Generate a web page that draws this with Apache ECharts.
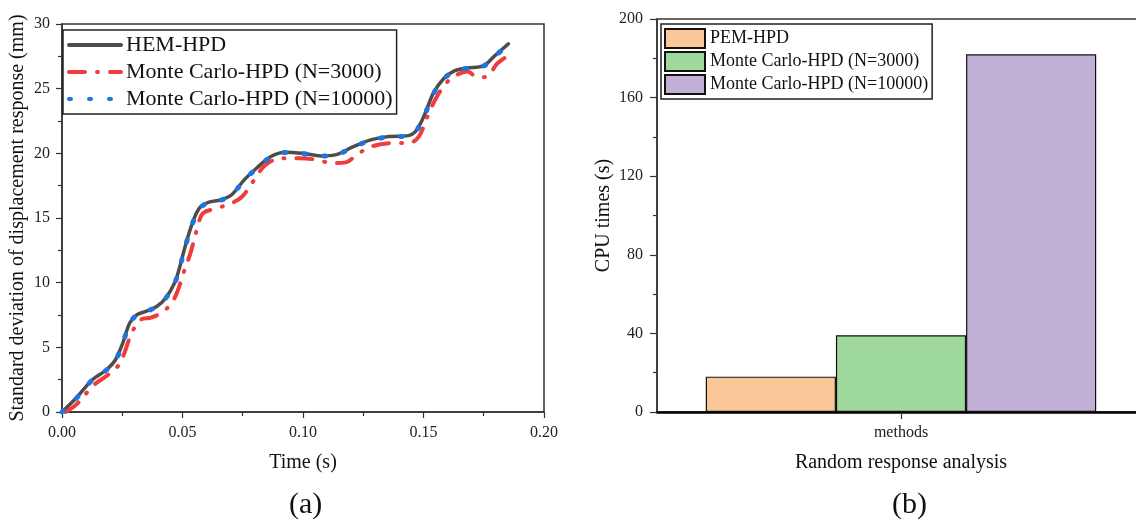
<!DOCTYPE html>
<html>
<head>
<meta charset="utf-8">
<script src="https://cdn.jsdelivr.net/npm/echarts@6/dist/echarts.min.js"></script>
<style>
  html, body { margin: 0; padding: 0; background: #fff; overflow: hidden; }
  /* the panel (b) frame runs just past the right edge of the window */
  #main { width: 1146px; height: 522px; }
</style>
</head>
<body>
<div id="main"></div>
<script>
// (a) standard deviation of displacement response over time
const hemTime = [0, 0.0059, 0.0126, 0.0185, 0.0222, 0.0252, 0.0281, 0.0311, 0.0348, 0.0393, 0.043, 0.0467, 0.0489, 0.0511, 0.0541, 0.057, 0.0607, 0.0659, 0.0704, 0.0756, 0.0807, 0.0867, 0.0926, 0.1, 0.1074, 0.1133, 0.1207, 0.1281, 0.1356, 0.143, 0.1467, 0.1504, 0.1541, 0.1585, 0.163, 0.1681, 0.1748, 0.1793, 0.1852];
const hemStd = [0, 1.08, 2.5, 3.27, 4.04, 5.33, 6.88, 7.52, 7.78, 8.16, 8.8, 9.97, 11.25, 12.8, 14.6, 15.76, 16.2, 16.4, 16.8, 17.95, 18.85, 19.75, 20.09, 20.0, 19.8, 19.88, 20.5, 21.04, 21.3, 21.35, 21.7, 22.97, 24.65, 25.8, 26.4, 26.6, 26.76, 27.5, 28.46];

const mc3000Time = [0.0015, 0.0059, 0.0133, 0.0193, 0.0237, 0.0259, 0.0289, 0.0326, 0.037, 0.0422, 0.0467, 0.0504, 0.0533, 0.0563, 0.0585, 0.0644, 0.0704, 0.0748, 0.0793, 0.0844, 0.0911, 0.0985, 0.1059, 0.1119, 0.1178, 0.1222, 0.1281, 0.1356, 0.1444, 0.1481, 0.1519, 0.1556, 0.16, 0.1637, 0.1681, 0.1726, 0.1763, 0.1807, 0.1874];
const mc3000Std = [0, 0.57, 2.1, 2.9, 3.66, 4.56, 6.1, 7.13, 7.3, 7.78, 8.8, 10.74, 12.28, 14.34, 15.37, 15.76, 16.15, 16.66, 17.82, 19.1, 19.62, 19.62, 19.5, 19.24, 19.3, 19.88, 20.5, 20.78, 20.83, 21.3, 22.97, 24.4, 25.55, 26.06, 26.32, 25.88, 25.93, 26.96, 27.8];

const mc10000Time = [0, 0.0059, 0.0126, 0.0185, 0.0222, 0.0252, 0.0281, 0.0311, 0.0348, 0.0393, 0.043, 0.0467, 0.0489, 0.0511, 0.0541, 0.057, 0.0607, 0.0659, 0.0704, 0.0756, 0.0807, 0.0867, 0.0926, 0.1, 0.1074, 0.1133, 0.1207, 0.1281, 0.1356, 0.143, 0.1467, 0.1504, 0.1541, 0.1585, 0.163, 0.1681, 0.1748, 0.1793, 0.1852];
const mc10000Std = [0, 1.05, 2.48, 3.25, 4.0, 5.3, 6.85, 7.5, 7.76, 8.14, 8.78, 9.94, 11.2, 12.75, 14.55, 15.72, 16.18, 16.38, 16.78, 17.92, 18.82, 19.72, 20.06, 19.98, 19.79, 19.86, 20.47, 21.0, 21.27, 21.33, 21.68, 22.93, 24.6, 25.76, 26.38, 26.58, 26.74, 27.46, 28.42];

const timeTicks = { min: 0, max: 0.2, step: 0.05 };
const stdTicks = { min: 0, max: 30, step: 5 };

// (b) CPU time of each method
const methodCategories = ['methods'];
const pemCpu = [18];
const mc3000Cpu = [39];
const mc10000Cpu = [182];
const cpuTicks = { min: 0, max: 200, step: 40 };

const lineNames = ['HEM-HPD', 'Monte Carlo-HPD (N=3000)', 'Monte Carlo-HPD (N=10000)'];
const barNames = ['PEM-HPD', 'Monte Carlo-HPD (N=3000)', 'Monte Carlo-HPD (N=10000)'];
// bar series get their own keys so the two legends do not share items
const barKeys = barNames.map(n => 'cpu:' + n);

const FONT = 'Liberation Serif';
const AX = '#333';

function pairs(xs, ys) { return xs.map((x, i) => [x, ys[i]]); }

const chart = echarts.init(document.getElementById('main'), null, { renderer: 'canvas' });

const labelText = { fontFamily: FONT, fontSize: 16, color: '#222' };
const nameText = { fontFamily: FONT, fontSize: 20, color: '#111' };

chart.setOption({
  animation: false,
  backgroundColor: '#fff',
  textStyle: { fontFamily: FONT },
  grid: [
    { left: 62, width: 482, top: 24, bottom: 110, show: true, borderColor: AX, borderWidth: 1.5, backgroundColor: 'transparent' },
    { left: 657, width: 488, top: 19, bottom: 110, show: true, borderColor: AX, borderWidth: 1.5, backgroundColor: 'transparent' }
  ],
  legend: [
    {
      data: lineNames,
      orient: 'vertical',
      left: 63, top: 30,
      itemWidth: 52, itemHeight: 20, itemGap: 5,
      padding: [4, 4, 4, 4],
      borderColor: '#222', borderWidth: 1.5,
      selectedMode: false,
      itemStyle: { opacity: 0 },
      lineStyle: { width: 4 },
      textStyle: { fontFamily: FONT, fontSize: 22, color: '#111' }
    },
    {
      data: barKeys,
      orient: 'vertical',
      left: 661, top: 24,
      itemWidth: 40, itemHeight: 19, itemGap: 2,
      padding: [4, 4, 4, 3],
      borderColor: '#222', borderWidth: 1.5,
      selectedMode: false,
      icon: 'rect',
      formatter: name => name.slice(4),
      textStyle: { fontFamily: FONT, fontSize: 18, color: '#111', lineHeight: 19 }
    }
  ],
  xAxis: [
    {
      type: 'value', gridIndex: 0,
      min: timeTicks.min, max: timeTicks.max, interval: timeTicks.step,
      name: 'Time (s)', nameLocation: 'middle', nameGap: 41, nameTextStyle: nameText,
      axisLine: { show: true, lineStyle: { color: AX, width: 1.5 } },
      axisTick: { show: true, length: 6, lineStyle: { color: AX, width: 1.2 } },
      minorTick: { show: true, splitNumber: 2, length: 4, lineStyle: { color: AX, width: 1.2 } },
      axisLabel: Object.assign({ margin: 13, formatter: v => v.toFixed(2) }, labelText),
      splitLine: { show: false }
    },
    {
      type: 'category', gridIndex: 1, data: methodCategories,
      name: 'Random response analysis', nameLocation: 'middle', nameGap: 41, nameTextStyle: nameText,
      axisLine: { show: true, lineStyle: { color: '#000', width: 2.5 } },
      axisTick: { show: true, alignWithLabel: true, length: 7, lineStyle: { color: AX, width: 1.2 } },
      axisLabel: Object.assign({ margin: 13 }, labelText),
      splitLine: { show: false }
    }
  ],
  yAxis: [
    {
      type: 'value', gridIndex: 0,
      min: stdTicks.min, max: stdTicks.max, interval: stdTicks.step,
      name: 'Standard deviation of displacement response (mm)', nameLocation: 'middle', nameGap: 34,
      nameTextStyle: nameText,
      axisLine: { show: true, lineStyle: { color: AX, width: 1.5 } },
      axisTick: { show: true, length: 6, lineStyle: { color: AX, width: 1.2 } },
      minorTick: { show: true, splitNumber: 2, length: 4, lineStyle: { color: AX, width: 1.2 } },
      axisLabel: Object.assign({ margin: 12 }, labelText),
      splitLine: { show: false }
    },
    {
      type: 'value', gridIndex: 1,
      min: cpuTicks.min, max: cpuTicks.max, interval: cpuTicks.step,
      name: 'CPU times (s)', nameLocation: 'middle', nameGap: 43, nameTextStyle: nameText,
      axisLine: { show: true, lineStyle: { color: AX, width: 1.5 } },
      axisTick: { show: true, length: 7, lineStyle: { color: AX, width: 1.2 } },
      minorTick: { show: true, splitNumber: 2, length: 4, lineStyle: { color: AX, width: 1.2 } },
      axisLabel: Object.assign({ margin: 14 }, labelText),
      splitLine: { show: false }
    }
  ],
  series: [
    {
      name: lineNames[0], type: 'line', xAxisIndex: 0, yAxisIndex: 0,
      data: pairs(hemTime, hemStd), smooth: 0.35, symbol: 'none',
      lineStyle: { color: '#4d4d4d', width: 3.5, cap: 'round' },
      itemStyle: { color: '#4d4d4d' }, z: 2
    },
    {
      name: lineNames[1], type: 'line', xAxisIndex: 0, yAxisIndex: 0,
      data: pairs(mc3000Time, mc3000Std), smooth: 0.35, symbol: 'none',
      lineStyle: { color: '#f03c3c', width: 4, type: [16, 12, 1, 12], cap: 'round' },
      itemStyle: { color: '#f03c3c' }, z: 3
    },
    {
      name: lineNames[2], type: 'line', xAxisIndex: 0, yAxisIndex: 0,
      data: pairs(mc10000Time, mc10000Std), smooth: 0.35, symbol: 'none',
      lineStyle: { color: '#1f74e0', width: 5, type: [2, 18], cap: 'round' },
      itemStyle: { color: '#1f74e0' }, z: 4
    },
    {
      name: barKeys[0], type: 'bar', xAxisIndex: 1, yAxisIndex: 1, data: pemCpu,
      barGap: '0%', barCategoryGap: '20%',
      itemStyle: { color: '#fac898', borderColor: '#111', borderWidth: 1.2 }
    },
    {
      name: barKeys[1], type: 'bar', xAxisIndex: 1, yAxisIndex: 1, data: mc3000Cpu,
      barGap: '0%', barCategoryGap: '20%',
      itemStyle: { color: '#9ed89b', borderColor: '#111', borderWidth: 1.2 }
    },
    {
      name: barKeys[2], type: 'bar', xAxisIndex: 1, yAxisIndex: 1, data: mc10000Cpu,
      barGap: '0%', barCategoryGap: '20%',
      itemStyle: { color: '#c2b1d6', borderColor: '#111', borderWidth: 1.2 }
    }
  ],
  graphic: [
    { type: 'text', left: 289, top: 490, style: { text: '(a)', font: '30px "Liberation Serif"', fill: '#111' } },
    { type: 'text', left: 892, top: 490, style: { text: '(b)', font: '30px "Liberation Serif"', fill: '#111' } }
  ]
});
</script>
</body>
</html>
